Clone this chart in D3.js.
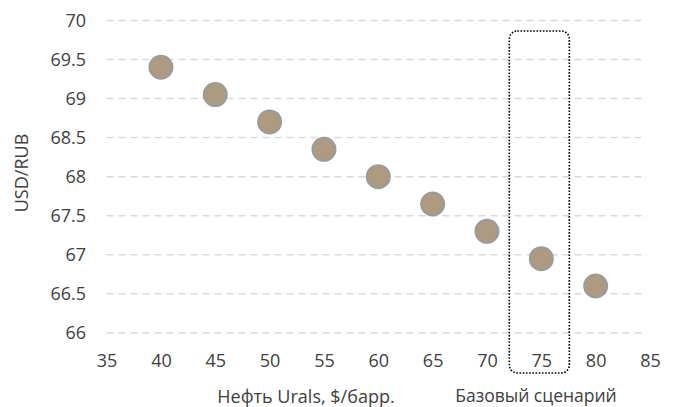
<!DOCTYPE html>
<html>
<head>
<meta charset="utf-8">
<script src="https://cdn.jsdelivr.net/npm/d3@7/dist/d3.min.js"></script>
<style>
  html, body { margin: 0; padding: 0; background: #fff; }
  svg text { font-family: "Open Sans", "Noto Sans", sans-serif; fill: #404040; }
</style>
</head>
<body>
<svg id="chart" width="678" height="407"></svg>
<script>
// Urals oil price ($/bbl) vs. USD/RUB exchange rate
const oilPrice = [40, 45, 50, 55, 60, 65, 70, 75, 80];
const usdRub = [69.4, 69.05, 68.7, 68.35, 68.0, 67.65, 67.3, 66.95, 66.6];
const xTicks = [35, 40, 45, 50, 55, 60, 65, 70, 75, 80, 85];
const yTicks = [66, 66.5, 67, 67.5, 68, 68.5, 69, 69.5, 70];
const baseScenario = 75;

const xTitle = "Нефть Urals, $/барр.";
const yTitle = "USD/RUB";
const baseTitle = "Базовый сценарий";

const svg = d3.select("#chart");

const x = d3.scaleLinear().domain([35, 85]).range([106.6, 650]);
const y = d3.scaleLinear().domain([66, 70]).range([332.9, 20.4]);

// horizontal dashed gridlines
svg.append("g")
  .selectAll("line")
  .data(yTicks)
  .join("line")
  .attr("x1", x(35))
  .attr("x2", x(85) - 3)
  .attr("y1", d => y(d))
  .attr("y2", d => y(d))
  .attr("stroke", "#d9d9d9")
  .attr("stroke-width", 1.5)
  .attr("stroke-dasharray", "7,5");

// y tick labels
const fmt = d => (Number.isInteger(d) ? d3.format("d")(d) : d3.format(".1f")(d));
const yAxis = d3.axisLeft(y).tickValues(yTicks).tickFormat(fmt).tickSize(0).tickPadding(0);
const gy = svg.append("g").attr("transform", `translate(86,0)`).call(yAxis);
gy.select(".domain").remove();
gy.selectAll("text").attr("font-size", 18).attr("fill", "#404040")
  .attr("font-family", "\"Open Sans\", sans-serif");

// x tick labels
const xAxis = d3.axisBottom(x).tickValues(xTicks).tickFormat(d3.format("d")).tickSize(0).tickPadding(0);
const gx = svg.append("g").attr("transform", `translate(0,354)`).call(xAxis);
gx.select(".domain").remove();
gx.selectAll("text").attr("font-size", 18).attr("fill", "#404040")
  .attr("font-family", "\"Open Sans\", sans-serif");

// scatter points
svg.append("g")
  .selectAll("circle")
  .data(oilPrice.map((p, i) => ({ p, r: usdRub[i] })))
  .join("circle")
  .attr("cx", d => x(d.p))
  .attr("cy", d => y(d.r))
  .attr("r", 11.5)
  .attr("fill", "#ad9a80")
  .attr("stroke", "#9b9b9b")
  .attr("stroke-width", 2);

// dotted frame around the base scenario
const bx = x(baseScenario);
svg.append("rect")
  .attr("x", bx - 32)
  .attr("y", 31)
  .attr("width", 60)
  .attr("height", 342)
  .attr("rx", 8)
  .attr("ry", 8)
  .attr("fill", "none")
  .attr("stroke", "#000")
  .attr("stroke-width", 1.6)
  .attr("stroke-dasharray", "1.6,1.6");

// axis titles
svg.append("text")
  .attr("x", 306)
  .attr("y", 403)
  .attr("text-anchor", "middle")
  .attr("font-size", 18)
  .text(xTitle);

svg.append("text")
  .attr("x", 536)
  .attr("y", 402)
  .attr("text-anchor", "middle")
  .attr("font-size", 17.5)
  .text(baseTitle);

svg.append("text")
  .attr("transform", "translate(28,173) rotate(-90)")
  .attr("text-anchor", "middle")
  .attr("font-size", 18)
  .text(yTitle);
</script>
</body>
</html>
